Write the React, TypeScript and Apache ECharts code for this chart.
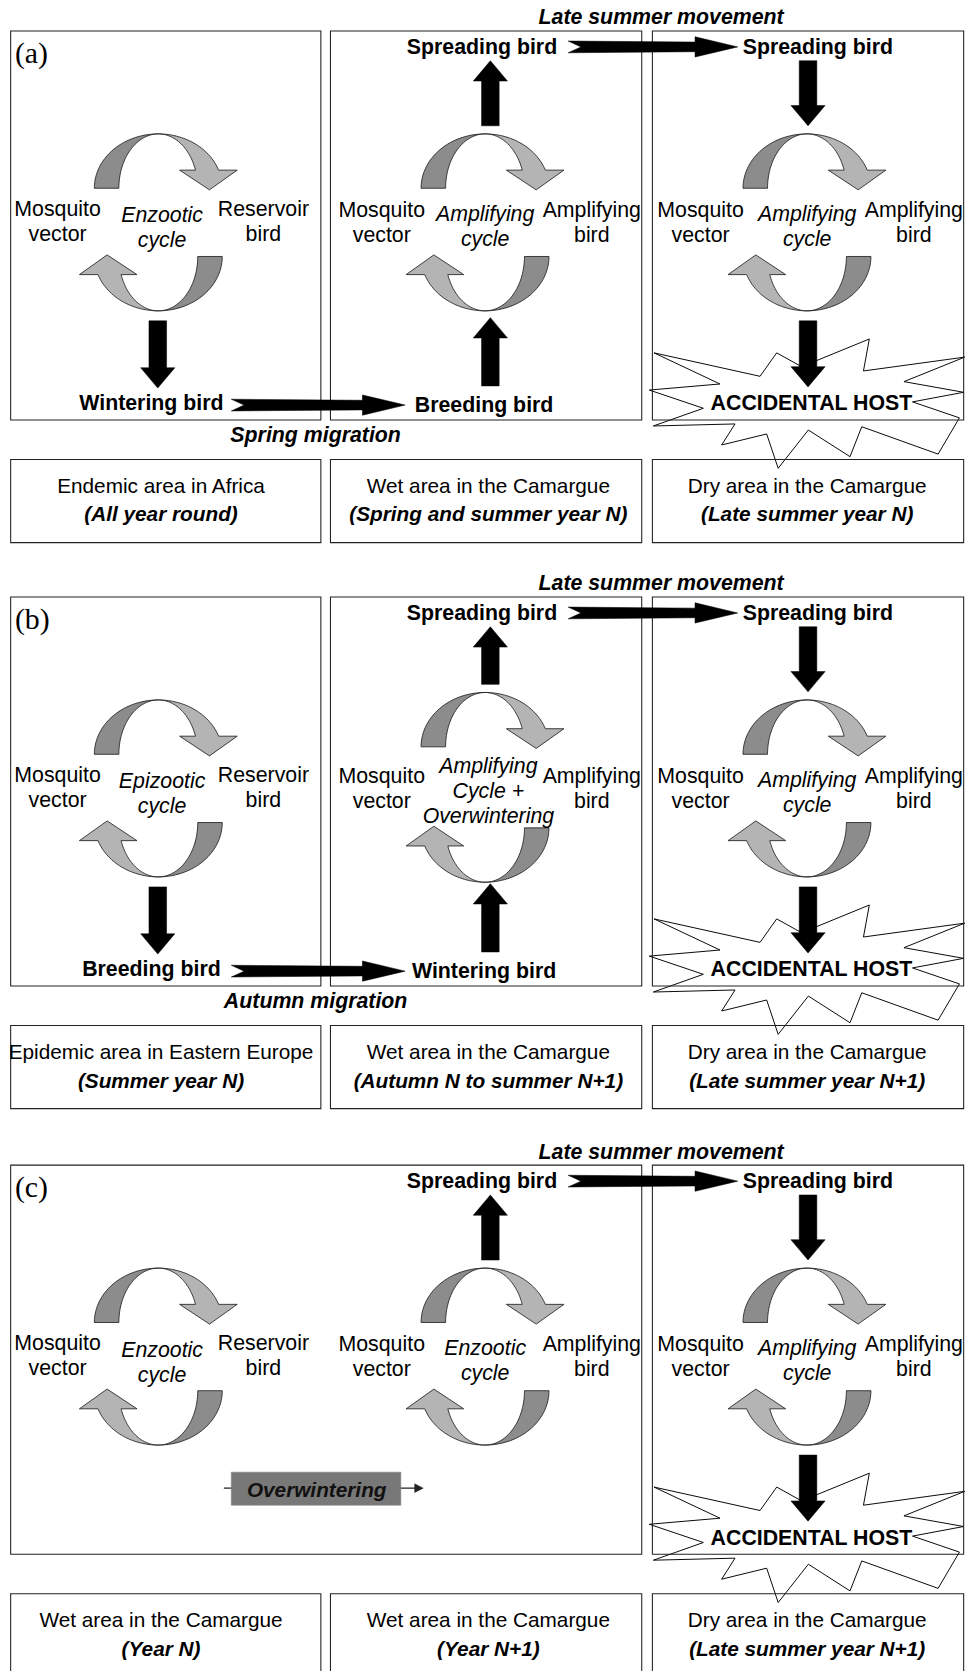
import React, { useEffect, useRef } from 'react';
import * as echarts from 'echarts';

// ---------- content (texts) ----------
const PANEL_TAGS = ['(a)', '(b)', '(c)'];
const HEADER = 'Late summer movement';
const SPREADING = 'Spreading bird';
const LEFT_CYCLE = [['Enzootic', 'cycle'], ['Epizootic', 'cycle'], ['Enzootic', 'cycle']];
const MID_CYCLE = [['Amplifying', 'cycle'], ['Amplifying', 'Cycle +', 'Overwintering'], ['Enzootic', 'cycle']];
const RIGHT_CYCLE = ['Amplifying', 'cycle'];
const VECTOR = ['Mosquito', 'vector'];
const LEFT_HOST = ['Reservoir', 'bird'];
const MID_HOST = ['Amplifying', 'bird'];
const LEFT_BOTTOM_BIRD = ['Wintering bird', 'Breeding bird', ''];
const MID_BOTTOM_BIRD = ['Breeding bird', 'Wintering bird', ''];
const MIGRATION = ['Spring migration', 'Autumn migration', ''];
const ACCIDENTAL = 'ACCIDENTAL HOST';
const OVERWINTER = 'Overwintering';
const AREA_NAMES = [
  ['Endemic area in Africa', 'Wet area in the Camargue', 'Dry area in the Camargue'],
  ['Epidemic area in Eastern Europe', 'Wet area in the Camargue', 'Dry area in the Camargue'],
  ['Wet area in the Camargue', 'Wet area in the Camargue', 'Dry area in the Camargue'],
];
const AREA_PERIODS = [
  ['(All year round)', '(Spring and summer year N)', '(Late summer year N)'],
  ['(Summer year N)', '(Autumn N to summer N+1)', '(Late summer year N+1)'],
  ['(Year N)', '(Year N+1)', '(Late summer year N+1)'],
];

// ---------- layout ----------
const S = 965 / 905;
const FONT = '"Liberation Sans", Arial, Helvetica, sans-serif';
const SERIF = '"Liberation Serif", "Times New Roman", serif';
const PANEL_Y = [0, 531, 1064];
const STAR = [
  [613.5, 331], [713, 353], [728.6, 331], [752, 344], [815.5, 318], [810, 348], [905, 335], [848, 358],
  [904, 368], [856, 377], [900, 392], [880, 426], [808.4, 400.3], [797.4, 428.4], [758.3, 403.4],
  [730, 439.3], [719.2, 407.1], [677, 417.4], [689.5, 397.7], [612.9, 399.6], [659.8, 383],
  [609.1, 365.9], [675.4, 360.2],
];

function T(x: number, y: number, text: string, o: any = {}) {
  const align = o.align || 'center';
  return {
    type: 'text', x, y, silent: true,
    style: {
      text, fill: o.fill || '#000', fontSize: o.size || 20, fontWeight: o.weight || 'normal',
      fontStyle: o.style || 'normal', fontFamily: o.family || FONT,
      textAlign: align, align, textVerticalAlign: 'middle', verticalAlign: 'middle',
    },
  };
}

function R(x: number, y: number, w: number, h: number, o: any = {}) {
  return {
    type: 'rect', shape: { x, y, width: w, height: h }, silent: true,
    style: { fill: o.fill || 'none', stroke: o.stroke || '#222', lineWidth: o.lw == null ? 1 : o.lw },
  };
}

function poly(points: number[][], fill: string, stroke = '#222', lw = 0.8) {
  return { type: 'polygon', shape: { points }, silent: true, style: { fill, stroke, lineWidth: lw } };
}

function cycle(cx: number, cy: number, dyTop = 0, dyBot = 0) {
  const rxo = 60, rxi = 37, ry = 51, off = 32, hb = 17;
  const thE = Math.asin(hb / ry);
  const N = 30;
  const build = (ey: number) => {
    const pt = (rx: number, th: number) => [cx + rx * Math.cos(th), ey - ry * Math.sin(th)];
    const dark: number[][] = [];
    for (let i = 0; i <= N; i++) dark.push(pt(rxo, Math.PI - (Math.PI / 2) * i / N));
    for (let i = 0; i <= N; i++) dark.push(pt(rxi, Math.PI / 2 + (Math.PI / 2) * i / N));
    const light: number[][] = [];
    for (let i = 0; i <= N; i++) light.push(pt(rxo, Math.PI / 2 - (Math.PI / 2 - thE) * i / N));
    light.push([cx + 74, ey - hb], [cx + 48, ey + 1.5], [cx + 20, ey - hb]);
    for (let i = 0; i <= N; i++) light.push(pt(rxi, thE + (Math.PI / 2 - thE) * i / N));
    return { dark, light };
  };
  const top = build(cy - off - dyTop);
  const base = build(cy - off);
  const rot = (pts: number[][]) => pts.map(([x, y]) => [2 * cx - x, 2 * cy - y + dyBot]);
  const DARK = '#8c8c8c', LIGHT = '#b4b4b4';
  return [
    poly(top.dark, DARK), poly(top.light, LIGHT),
    poly(rot(base.dark), DARK), poly(rot(base.light), LIGHT),
  ];
}

function vArrow(x: number, y0: number, y1: number) {
  const sw = 16.5, hw = 32, hl = 19;
  const d = Math.sign(y1 - y0);
  const yb = y1 - d * hl;
  return poly([
    [x - sw / 2, y0], [x + sw / 2, y0], [x + sw / 2, yb], [x + hw / 2, yb], [x, y1],
    [x - hw / 2, yb], [x - sw / 2, yb],
  ], '#000', '#000', 0.5);
}

function hArrow(x0: number, x1: number, y: number) {
  const sh = 4.5, hh = 9.5, hl = 40, notch = 12;
  return poly([
    [x0, y - sh - 1], [x1 - hl, y - sh], [x1 - hl, y - hh], [x1, y], [x1 - hl, y + hh],
    [x1 - hl, y + sh], [x0, y + sh + 1], [x0 + notch, y],
  ], '#000', '#000', 0.5);
}

function lines2(x: number, yMid: number, arr: string[], o: any = {}, lh = 23.5) {
  const n = arr.length;
  return arr.map((s, i) => T(x, yMid + (i - (n - 1) / 2) * lh, s, o));
}

function buildPanel(p: number) {
  const oy = PANEL_Y[p];
  const back: any[] = [];
  const mid: any[] = [];
  const front: any[] = [];
  // starburst
  back.push(poly(STAR.map(([x, y]) => [x, y + oy]), '#fff', '#000', 0.9));
  // frames
  if (p < 2) {
    mid.push(R(10, 29 + oy, 291, 365), R(310, 29 + oy, 292, 365));
  } else {
    mid.push(R(10, 29 + oy, 592, 365));
  }
  mid.push(R(612, 29 + oy, 292, 365));
  const lbx = [[10, 291], [310, 292], [612, 292]];
  const lcx = [151, 458, 757];
  lbx.forEach(([x, w], i) => {
    mid.push(R(x, 431 + oy, w, 78));
    front.push(T(lcx[i], 455 + oy, AREA_NAMES[p][i], { size: 19.5 }));
    front.push(T(lcx[i], 482 + oy, AREA_PERIODS[p][i], { size: 19.5, weight: 'bold', style: 'italic' }));
  });
  // cycles
  const cy = 208.6 + oy;
  mid.push(...cycle(148.5, cy));
  mid.push(...(p === 1 ? cycle(455, cy, 7, 5) : cycle(455, cy)));
  mid.push(...cycle(757, cy));
  // arrows
  front.push(vArrow(460, (p === 1 ? 111 : 118) + oy, 57 + oy));
  front.push(vArrow(758, 57 + oy, 118 + oy));
  front.push(vArrow(758, 301 + oy, 363 + oy));
  front.push(hArrow(533, 692, 44 + oy));
  if (p < 2) {
    front.push(vArrow(148, 301 + oy, 364 + oy));
    front.push(vArrow(460, 362 + oy, 298 + oy));
    front.push(hArrow(217, 380, 380 + oy));
    front.push(T(142, 378 + oy, LEFT_BOTTOM_BIRD[p], { weight: 'bold' }));
    front.push(T(454, 380 + oy, MID_BOTTOM_BIRD[p], { weight: 'bold' }));
    front.push(T(296, 408 + oy, MIGRATION[p], { weight: 'bold', style: 'italic' }));
  } else {
    front.push({
      type: 'line', silent: true, shape: { x1: 210, y1: 1396, x2: 391, y2: 1396 },
      style: { stroke: '#222', lineWidth: 1.2 },
    });
    front.push(poly([[389, 1392], [397, 1396], [389, 1400]], '#222', '#222', 0.5));
    front.push(R(217, 1381, 159, 31, { fill: '#787878', stroke: '#787878', lw: 0.5 }));
    front.push(T(297, 1397, OVERWINTER, { size: 19.5, weight: 'bold', style: 'italic', fill: '#111' }));
  }
  // texts
  front.push(T(620, 16 + oy, HEADER, { weight: 'bold', style: 'italic' }));
  front.push(T(14, 49 + oy, PANEL_TAGS[p], { family: SERIF, size: 28, align: 'left' }));
  front.push(T(452, 44 + oy, SPREADING, { weight: 'bold' }));
  front.push(T(767, 44 + oy, SPREADING, { weight: 'bold' }));
  front.push(T(761, 378 + oy, ACCIDENTAL, { weight: 'bold' }));
  front.push(...lines2(54, 207.5 + oy, VECTOR));
  front.push(...lines2(247, 207.5 + oy, LEFT_HOST));
  front.push(...lines2(152, 213.5 + oy, LEFT_CYCLE[p], { style: 'italic' }));
  front.push(...lines2(358, 208.5 + oy, VECTOR));
  front.push(...lines2(555, 208.5 + oy, MID_HOST));
  front.push(...lines2(p === 1 ? 458 : 455, (p === 1 ? 210.5 : 212) + oy, MID_CYCLE[p], { style: 'italic' }));
  front.push(...lines2(657, 208.5 + oy, VECTOR));
  front.push(...lines2(857, 208.5 + oy, MID_HOST));
  front.push(...lines2(757, 212 + oy, RIGHT_CYCLE, { style: 'italic' }));
  return { back, mid, front };
}

export default function App() {
  const ref = useRef<HTMLDivElement>(null);
  useEffect(() => {
    if (!ref.current) return;
    const chart = echarts.init(ref.current, undefined, { renderer: 'svg' });
    const back: any[] = [], mid: any[] = [], front: any[] = [];
    for (let p = 0; p < 3; p++) {
      const r = buildPanel(p);
      back.push(...r.back); mid.push(...r.mid); front.push(...r.front);
    }
    chart.setOption({
      animation: false,
      backgroundColor: '#fff',
      graphic: [{ type: 'group', x: 0, y: 0, scaleX: S, scaleY: S, children: [...back, ...mid, ...front] }],
    });
    return () => chart.dispose();
  }, []);
  return (
    <div
      ref={ref}
      style={{ position: 'absolute', left: 0, top: 0, width: 965, height: 1671, background: '#fff' }}
    />
  );
}
